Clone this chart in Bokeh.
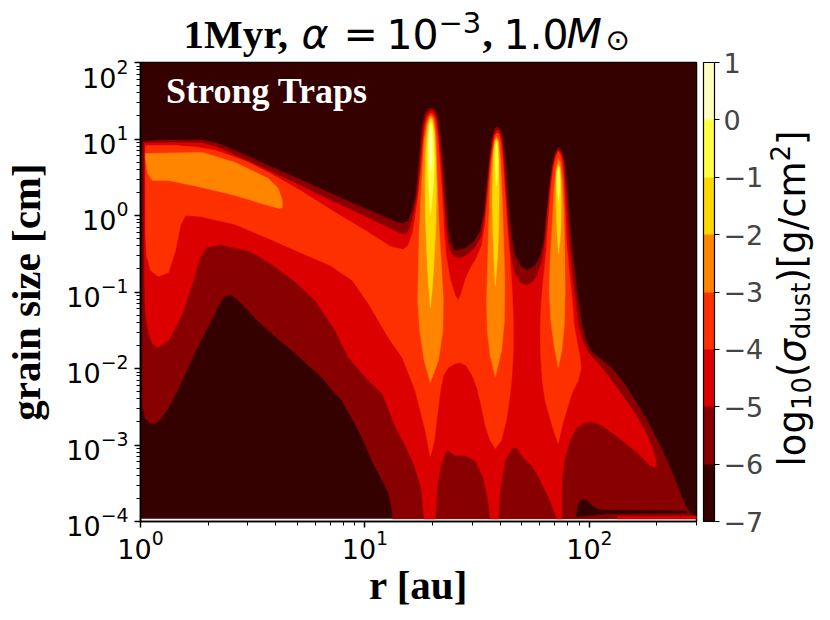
import math
import numpy as np
from bokeh.plotting import figure
from bokeh.layouts import row, column
from bokeh.models import ColorBar, LinearColorMapper, FixedTicker, Label, Range1d
from bokeh.embed import file_html
from bokeh.resources import INLINE

# ---------------- data ----------------
R_RANGE = (1.0, 300.0)          # r [au]
A_RANGE = (1e-4, 1e2)           # grain size [cm]
A_FLOOR_LOG = -3.965            # lowest grain size of the model grid (log10 cm)
levels = [-7, -6, -5, -4, -3, -2, -1, 0, 1]
colors = ["#340000", "#880000", "#dc0000", "#ff3000", "#ff8400", "#ffd800", "#ffff43", "#ffffc0"]

# contour boundaries: log10(r/au) and log10(a/cm) of regions where log10(sigma) > level
m6_main_lr = [0.009, 0.089, 0.276, 0.347, 0.445, 0.570, 0.712, 0.868, 1.002, 1.135,
              1.166, 1.193, 1.211, 1.227, 1.238, 1.247, 1.256, 1.269, 1.282, 1.296,
              1.309, 1.322, 1.333, 1.342, 1.351, 1.360, 1.369, 1.380, 1.402, 1.447,
              1.487, 1.514, 1.532, 1.545, 1.556, 1.567, 1.578, 1.589, 1.603, 1.616,
              1.627, 1.636, 1.647, 1.665, 1.692, 1.723, 1.754, 1.781, 1.799, 1.812,
              1.825, 1.839, 1.852, 1.863, 1.874, 1.888, 1.899, 1.910, 1.922, 1.937,
              1.950, 1.968, 1.986, 2.008, 2.048, 2.101, 2.146, 2.190, 2.253, 2.315,
              2.369, 2.409, 2.435, 2.453, 2.477, 2.477, 1.122, 1.122, 1.113, 1.104,
              1.077, 1.046, 1.015, 0.987, 0.948, 0.913, 0.898, 0.855, 0.809, 0.748,
              0.690, 0.632, 0.570, 0.516, 0.467, 0.427, 0.401, 0.374, 0.347, 0.321,
              0.275, 0.236, 0.200, 0.160, 0.125, 0.093, 0.067, 0.040, 0.022, 0.009]
m6_main_la = [0.967, 0.987, 0.987, 0.941, 0.824, 0.654, 0.471, 0.261, 0.092, -0.078,
              -0.105, -0.065, 0.065, 0.261, 0.588, 0.915, 1.176, 1.333, 1.392, 1.405,
              1.386, 1.307, 1.111, 0.850, 0.523, 0.196, -0.131, -0.353, -0.458, -0.431,
              -0.340, -0.196, 0.065, 0.458, 0.784, 1.020, 1.137, 1.163, 1.124, 0.980,
              0.654, 0.261, -0.131, -0.484, -0.654, -0.719, -0.667, -0.536, -0.327, 0.065,
              0.458, 0.719, 0.850, 0.889, 0.850, 0.719, 0.392, -0.065, -0.418, -0.784,
              -1.111, -1.438, -1.634, -1.778, -1.869, -2.000, -2.157, -2.353, -2.654, -3.007,
              -3.359, -3.660, -3.830, -3.908, -3.935, -3.965, -3.965, -3.882, -3.725, -3.621,
              -3.464, -3.294, -3.098, -2.902, -2.680, -2.510, -2.418, -2.288, -2.118, -1.961,
              -1.804, -1.660, -1.503, -1.359, -1.203, -1.085, -1.039, -1.059, -1.176, -1.346,
              -1.595, -1.830, -2.065, -2.314, -2.510, -2.654, -2.719, -2.706, -2.654, -2.510]

low_hole_lr = [1.941, 1.951, 1.967, 1.989, 2.011, 2.033, 2.061, 2.434, 2.434, 2.075, 2.004, 1.950]
low_hole_la = [-3.935, -3.769, -3.716, -3.725, -3.791, -3.834, -3.850, -3.863, -3.889, -3.899, -3.922, -3.941]

m5_main_lr = [0.018, 0.134, 0.276, 0.347, 0.423, 0.570, 0.712, 0.868, 1.002, 1.091,
              1.158, 1.184, 1.204, 1.218, 1.233, 1.244, 1.253, 1.262, 1.273, 1.286,
              1.296, 1.307, 1.318, 1.327, 1.336, 1.345, 1.353, 1.362, 1.374, 1.394,
              1.425, 1.460, 1.491, 1.518, 1.534, 1.547, 1.558, 1.569, 1.579, 1.589,
              1.598, 1.609, 1.618, 1.627, 1.636, 1.647, 1.665, 1.692, 1.719, 1.745,
              1.768, 1.790, 1.803, 1.814, 1.825, 1.837, 1.850, 1.861, 1.874, 1.886,
              1.895, 1.904, 1.910, 1.923, 1.937, 1.950, 1.968, 1.995, 2.035, 2.075,
              2.119, 2.164, 2.208, 2.248, 2.280, 2.297, 2.293, 2.271, 2.226, 2.164,
              2.106, 2.057, 2.012, 1.977, 1.941, 1.914, 1.892, 1.879, 1.877, 1.877,
              1.855, 1.825, 1.781, 1.750, 1.705, 1.678, 1.656, 1.625, 1.603, 1.595,
              1.558, 1.549, 1.527, 1.491, 1.447, 1.402, 1.371, 1.358, 1.336, 1.321,
              1.313, 1.264, 1.251, 1.220, 1.180, 1.135, 1.095, 1.077, 1.015, 0.926,
              0.868, 0.779, 0.677, 0.579, 0.490, 0.356, 0.294, 0.263, 0.236, 0.187,
              0.125, 0.076, 0.053, 0.036, 0.022, 0.018]
m5_main_la = [0.948, 0.954, 0.948, 0.889, 0.784, 0.588, 0.392, 0.170, -0.013, -0.144,
              -0.235, -0.248, -0.144, 0.039, 0.261, 0.588, 0.915, 1.163, 1.307, 1.359,
              1.373, 1.359, 1.281, 1.085, 0.824, 0.484, 0.131, -0.196, -0.431, -0.536,
              -0.562, -0.510, -0.418, -0.275, 0.000, 0.392, 0.719, 0.967, 1.092, 1.118,
              1.105, 1.007, 0.745, 0.353, -0.065, -0.458, -0.745, -0.876, -0.915, -0.876,
              -0.784, -0.588, -0.301, 0.065, 0.392, 0.641, 0.797, 0.856, 0.824, 0.680,
              0.327, -0.065, -0.392, -0.784, -1.111, -1.438, -1.634, -1.791, -1.922, -2.065,
              -2.235, -2.418, -2.614, -2.810, -3.033, -3.203, -3.294, -3.268, -3.137, -2.980,
              -2.850, -2.745, -2.693, -2.706, -2.784, -2.941, -3.150, -3.412, -3.660, -3.965,
              -3.965, -3.725, -3.464, -3.294, -3.163, -3.046, -3.033, -3.203, -3.556, -3.965,
              -3.965, -3.725, -3.425, -3.203, -3.137, -3.137, -3.072, -3.098, -3.294, -3.556,
              -3.965, -3.965, -3.569, -3.268, -3.007, -2.758, -2.458, -2.327, -2.157, -1.856,
              -1.503, -1.111, -0.837, -0.627, -0.471, -0.379, -0.418, -0.562, -0.850, -1.281,
              -1.634, -1.725, -1.673, -1.543, -1.281, -0.850]
m5_strip_lr = [2.124, 2.477, 2.477, 2.124]
m5_strip_la = [-3.935, -3.928, -3.965, -3.965]

m4_main_lr = [0.022, 0.156, 0.254, 0.334, 0.401, 0.481, 0.579, 0.712, 0.868, 1.002,
              1.113, 1.171, 1.193, 1.213, 1.227, 1.240, 1.251, 1.260, 1.269, 1.280,
              1.291, 1.302, 1.313, 1.322, 1.331, 1.340, 1.347, 1.353, 1.362, 1.380,
              1.402, 1.416, 1.429, 1.447, 1.469, 1.496, 1.520, 1.534, 1.547, 1.558,
              1.569, 1.578, 1.587, 1.596, 1.607, 1.616, 1.625, 1.634, 1.645, 1.656,
              1.661, 1.661, 1.654, 1.643, 1.630, 1.607, 1.581, 1.558, 1.536, 1.518,
              1.500, 1.478, 1.451, 1.425, 1.402, 1.371, 1.349, 1.336, 1.322, 1.309,
              1.291, 1.269, 1.224, 1.166, 1.104, 1.015, 0.944, 0.846, 0.712, 0.570,
              0.423, 0.267, 0.200, 0.178, 0.156, 0.125, 0.080, 0.045, 0.027, 0.022]
m4_main_la = [0.915, 0.915, 0.893, 0.850, 0.784, 0.697, 0.549, 0.327, 0.039, -0.196,
              -0.405, -0.444, -0.392, -0.222, 0.039, 0.327, 0.654, 0.980, 1.190, 1.294,
              1.333, 1.327, 1.255, 1.085, 0.784, 0.418, 0.092, -0.235, -0.536, -0.837,
              -1.046, -1.111, -1.020, -0.837, -0.693, -0.562, -0.392, -0.131, 0.261, 0.654,
              0.915, 1.046, 1.078, 1.072, 0.941, 0.654, 0.261, -0.131, -0.523, -0.980,
              -1.373, -1.765, -2.131, -2.418, -2.680, -2.941, -3.046, -2.941, -2.745, -2.484,
              -2.261, -2.092, -1.961, -1.922, -1.935, -1.987, -2.092, -2.288, -2.614, -2.941,
              -3.150, -2.810, -2.288, -1.856, -1.595, -1.150, -0.850, -0.654, -0.484, -0.301,
              -0.118, -0.013, 0.000, -0.131, -0.458, -0.745, -0.797, -0.719, -0.523, -0.196]
m4_col3_lr = [1.861, 1.852, 1.841, 1.830, 1.819, 1.808, 1.794, 1.785, 1.781, 1.783,
              1.790, 1.803, 1.821, 1.841, 1.861, 1.879, 1.901, 1.923, 1.950, 1.963,
              1.959, 1.946, 1.932, 1.923, 1.910, 1.897, 1.892, 1.886, 1.879, 1.872]
m4_col3_la = [0.837, 0.771, 0.654, 0.392, 0.000, -0.458, -0.850, -1.176, -1.503, -1.830,
              -2.157, -2.418, -2.614, -2.810, -2.980, -2.745, -2.523, -2.314, -2.157, -2.000,
              -1.856, -1.673, -1.438, -1.111, -0.719, -0.327, 0.065, 0.458, 0.680, 0.784]

m3_body_lr = [0.022, 0.134, 0.276, 0.423, 0.570, 0.614, 0.632, 0.632, 0.619, 0.570, 0.423, 0.276, 0.125, 0.053, 0.031, 0.022]
m3_body_la = [0.810, 0.817, 0.824, 0.693, 0.484, 0.353, 0.196, 0.105, 0.092, 0.131, 0.261, 0.366, 0.458, 0.458, 0.562, 0.745]
m3_p1_lr = [1.291, 1.327, 1.347, 1.349, 1.342, 1.331, 1.322, 1.316, 1.305, 1.296, 1.288, 1.278, 1.264, 1.253, 1.242, 1.238, 1.235, 1.244, 1.264]
m3_p1_la = [-2.183, -1.895, -1.503, -1.111, -0.719, -0.196, 0.458, 1.046, 1.275, 1.301, 1.294, 1.216, 0.980, 0.458, -0.196, -0.719, -1.111, -1.503, -1.895]
m3_p2_lr = [1.581, 1.609, 1.621, 1.623, 1.618, 1.612, 1.604, 1.596, 1.586, 1.578, 1.568, 1.559, 1.552, 1.546, 1.542, 1.545, 1.558]
m3_p2_la = [-2.105, -1.765, -1.373, -0.850, -0.327, 0.196, 0.719, 0.980, 1.033, 0.980, 0.784, 0.458, -0.065, -0.719, -1.111, -1.503, -1.830]
m3_p3_lr = [1.861, 1.877, 1.888, 1.892, 1.890, 1.886, 1.879, 1.870, 1.861, 1.850, 1.841, 1.833, 1.825, 1.821, 1.828, 1.843]
m3_p3_la = [-1.987, -1.765, -1.438, -0.980, -0.458, 0.065, 0.458, 0.693, 0.745, 0.588, 0.261, -0.196, -0.588, -0.980, -1.373, -1.699]

m2_p1_lr = [1.291, 1.301, 1.308, 1.315, 1.318, 1.316, 1.309, 1.300, 1.293, 1.287, 1.279, 1.271, 1.268, 1.269, 1.275, 1.282]
m2_p1_la = [-1.203, -0.915, -0.588, -0.196, 0.327, 0.719, 1.111, 1.255, 1.275, 1.248, 1.150, 0.850, 0.458, 0.000, -0.458, -0.850]
m2_p2_lr = [1.581, 1.591, 1.596, 1.598, 1.597, 1.593, 1.586, 1.581, 1.574, 1.570, 1.568, 1.570, 1.575]
m2_p2_la = [-0.915, -0.523, -0.131, 0.327, 0.719, 0.954, 1.000, 0.980, 0.850, 0.588, 0.196, -0.196, -0.588]
m2_p3_lr = [1.862, 1.869, 1.873, 1.874, 1.873, 1.868, 1.861, 1.854, 1.851, 1.852, 1.856]
m2_p3_la = [-0.497, -0.327, -0.131, 0.196, 0.458, 0.627, 0.667, 0.588, 0.392, 0.131, -0.196]

m1_p1_lr = [1.291, 1.303, 1.309, 1.305, 1.299, 1.293, 1.288, 1.282, 1.280, 1.285]
m1_p1_la = [0.000, 0.327, 0.719, 1.046, 1.190, 1.229, 1.190, 1.046, 0.719, 0.327]
m1_p2_lr = [1.586, 1.591, 1.592, 1.590, 1.586, 1.581, 1.580, 1.581]
m1_p2_la = [0.392, 0.523, 0.719, 0.902, 0.954, 0.915, 0.784, 0.588]
m1_p3_lr = [1.862, 1.866, 1.867, 1.866, 1.862, 1.855, 1.855]
m1_p3_la = [0.196, 0.301, 0.458, 0.601, 0.634, 0.562, 0.392]

m0_p1_lr = [1.294, 1.297, 1.298, 1.297, 1.293, 1.289, 1.288, 1.290]
m0_p1_la = [0.588, 0.654, 0.915, 1.085, 1.163, 1.085, 0.915, 0.654]

# ---------------- layout constants (pixels) ----------------
TITLE_H = 59
FRAME_LEFT, FRAME_W, FRAME_H = 140, 556, 459
MAIN_TOP, MAIN_BOTTOM, MAIN_RIGHT = 3, 90, 2
MAIN_W = FRAME_LEFT + FRAME_W + MAIN_RIGHT
MAIN_H = MAIN_TOP + FRAME_H + MAIN_BOTTOM
TOTAL_H = TITLE_H + MAIN_H
SIDE_W = 830 - MAIN_W
FRAME_TOP_PAGE = TITLE_H + MAIN_TOP
FRAME_BOTTOM_PAGE = FRAME_TOP_PAGE + FRAME_H
BASE_SHIFT = 0.28   # label anchor offset (fraction of font size) so glyph baselines land where wanted
TICK_FONT = "27px"


def text_label(fig, text, x, y, size, font="DejaVu Sans", style="normal", color="black", angle=0.0):
    fig.add_layout(Label(x=x, y=y, text=text, text_font=font, text_font_size=f"{size}px",
                         text_font_style=style, text_color=color, text_align="left",
                         text_baseline="alphabetic", angle=angle))


# ---------------- main plot ----------------
p = figure(x_axis_type="log", y_axis_type="log", x_range=R_RANGE, y_range=A_RANGE,
           frame_width=FRAME_W, frame_height=FRAME_H,
           min_border_left=FRAME_LEFT, min_border_right=MAIN_RIGHT,
           min_border_top=MAIN_TOP, min_border_bottom=MAIN_BOTTOM,
           output_backend="svg", toolbar_location=None)
p.grid.visible = False
p.background_fill_color = "white"
p.border_fill_color = "white"
p.outline_line_color = "black"
p.outline_line_width = 1.5


def polys(*pairs):
    xs = [list(10 ** np.asarray(lr)) for lr, la in pairs]
    ys = [list(10 ** np.asarray(la)) for lr, la in pairs]
    return xs, ys


p.quad(left=R_RANGE[0], right=R_RANGE[1], bottom=10 ** A_FLOOR_LOG, top=A_RANGE[1],
       fill_color=colors[0], line_color=None)

layers = [
    (colors[1], [(m6_main_lr, m6_main_la)]),
    (colors[0], [(low_hole_lr, low_hole_la)]),
    (colors[2], [(m5_main_lr, m5_main_la), (m5_strip_lr, m5_strip_la)]),
    (colors[3], [(m4_main_lr, m4_main_la), (m4_col3_lr, m4_col3_la)]),
    (colors[4], [(m3_body_lr, m3_body_la), (m3_p1_lr, m3_p1_la), (m3_p2_lr, m3_p2_la), (m3_p3_lr, m3_p3_la)]),
    (colors[5], [(m2_p1_lr, m2_p1_la), (m2_p2_lr, m2_p2_la), (m2_p3_lr, m2_p3_la)]),
    (colors[6], [(m1_p1_lr, m1_p1_la), (m1_p2_lr, m1_p2_la), (m1_p3_lr, m1_p3_la)]),
    (colors[7], [(m0_p1_lr, m0_p1_la)]),
]
for col, pl in layers:
    xs, ys = polys(*pl)
    p.patches(xs, ys, fill_color=col, line_color=col, line_width=0.5)

for ax in (p.xaxis[0], p.yaxis[0]):
    ax.axis_line_color = "black"
    ax.axis_line_width = 1.5
    ax.major_tick_line_width = 1.5
    ax.minor_tick_line_width = 1.0
    ax.major_tick_out = 6
    ax.major_tick_in = 0
    ax.minor_tick_out = 4
    ax.minor_tick_in = 0
    ax.major_label_text_font = "DejaVu Sans"
    ax.major_label_text_font_size = TICK_FONT
    ax.major_label_text_color = "black"
    ax.axis_label_text_font = "Liberation Serif"
    ax.axis_label_text_font_style = "bold"
    ax.axis_label_text_font_size = "41px"
    ax.axis_label_text_color = "black"
p.xaxis.axis_label = "r [au]"
p.yaxis.axis_label = "grain size [cm]"
p.xaxis.major_label_standoff = 2
p.yaxis.major_label_standoff = 6
p.xaxis.axis_label_standoff = 0
p.yaxis.axis_label_standoff = 14

# in-plot annotation (glyph baseline near r ~ 1.32 au, a ~ 31 cm)
text_label(p, "Strong Traps", 1.300, 41.8, 36, font="Liberation Serif", style="bold", color="white")

# ---------------- title strip: frame spans page x 140..696, y 0..TITLE_H ----------------
t = figure(frame_width=FRAME_W, frame_height=TITLE_H,
           x_range=Range1d(FRAME_LEFT, FRAME_LEFT + FRAME_W), y_range=Range1d(TITLE_H, 0),
           x_axis_type=None, y_axis_type=None,
           min_border_left=FRAME_LEFT, min_border_right=MAIN_RIGHT, min_border_top=0, min_border_bottom=0,
           output_backend="svg", toolbar_location=None)
t.grid.visible = False
t.outline_line_color = None
t.background_fill_color = "white"
t.border_fill_color = "white"


def title_piece(text, x, base, size, **kw):
    text_label(t, text, x, base - BASE_SHIFT * size, size, **kw)


TITLE_BASE = 44.5
title_piece("1Myr,", 183, TITLE_BASE, 41, font="Liberation Serif", style="bold")
title_piece("\u03b1", 301, TITLE_BASE, 41, style="italic")
title_piece("=", 343, TITLE_BASE, 41)
title_piece("10", 386, TITLE_BASE, 41)
title_piece("\u22123", 438, TITLE_BASE - 14.5, 29)
title_piece(",", 482, TITLE_BASE, 41, font="Liberation Serif", style="bold")
title_piece("1.0", 503, TITLE_BASE, 41)
title_piece("M", 566, TITLE_BASE, 41, style="italic")
title_piece("\u2299", 605, TITLE_BASE + 3, 29)

# ---------------- colour bar strip (coordinates = page pixels) ----------------
s = figure(width=SIDE_W, height=TOTAL_H, x_range=Range1d(MAIN_W, 830), y_range=Range1d(TOTAL_H, 0),
           x_axis_type=None, y_axis_type=None, min_border=0,
           output_backend="svg", toolbar_location=None)
s.grid.visible = False
s.outline_line_color = None
s.background_fill_color = "white"
s.border_fill_color = "white"

mapper = LinearColorMapper(palette=colors, low=levels[0], high=levels[-1])
cb = ColorBar(color_mapper=mapper, ticker=FixedTicker(ticks=levels),
              width=11, height=FRAME_H, location=(703 - MAIN_W, TOTAL_H - FRAME_BOTTOM_PAGE),
              margin=0, padding=0,
              bar_line_color="black", bar_line_width=1.2,
              major_tick_line_color="black", major_tick_out=5, major_tick_in=0,
              minor_tick_line_color=None,
              major_label_text_font="DejaVu Sans", major_label_text_font_size=TICK_FONT,
              label_standoff=4,
              major_label_overrides={v: str(v).replace("-", "\u2212") for v in levels},
              background_fill_color=None, border_line_color=None)
s.add_layout(cb, "center")

rot = math.pi / 2
text_label(s, "log", 792, 466, 37, angle=rot)
text_label(s, "10", 800, 409.6, 26, angle=rot)
text_label(s, "(", 792, 376.5, 37, angle=rot)
text_label(s, "\u03c3", 792, 362.1, 37, style="italic", angle=rot)
text_label(s, "dust", 800, 338.8, 26, angle=rot)
text_label(s, ")[g/cm", 792, 282.1, 37, angle=rot)
text_label(s, "2", 779, 160.9, 26, angle=rot)
text_label(s, "]", 792, 144.4, 37, angle=rot)

layout = row(column(t, p), s)
open("out.html", "w").write(file_html(layout, INLINE))
